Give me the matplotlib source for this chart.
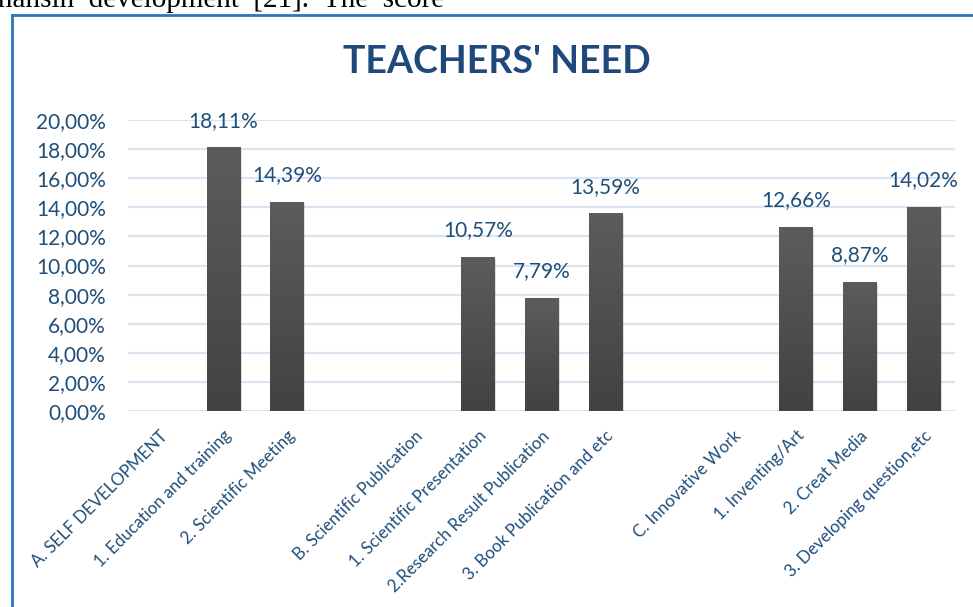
import matplotlib
matplotlib.use("Agg")
import matplotlib.pyplot as plt
import numpy as np
from matplotlib.patches import Rectangle
from matplotlib.lines import Line2D
from matplotlib.colors import LinearSegmentedColormap

categories = ["A. SELF DEVELOPMENT", "1. Education and training", "2. Scientific Meeting", "",
              "B. Scientific Publication", "1. Scientific Presentation", "2.Research Result Publication",
              "3. Book Publication and etc", "", "C. Innovative Work", "1. Inventing/Art",
              "2. Creat Media", "3. Developing question,etc"]
values = [None, 18.11, 14.39, None, None, 10.57, 7.79, 13.59, None, None, 12.66, 8.87, 14.02]
yticks = [0, 2, 4, 6, 8, 10, 12, 14, 16, 18, 20]

blue_txt = "#1F4E79"
grid_c = "#D9E3F3"
plt.rcParams['font.family'] = ['Lato', 'DejaVu Sans']

fig = plt.figure(figsize=(9.73, 6.07), dpi=100)
ax = fig.add_axes([128 / 973, 1 - 411 / 607, (955 - 128) / 973, (411 - 120) / 607])

x = np.arange(len(categories))
grad = np.linspace(0, 1, 256).reshape(-1, 1)
cmap = LinearSegmentedColormap.from_list("g", ["#424242", "#5C5C5C"])

for i, v in enumerate(values):
    if v is None:
        continue
    # soft shadow
    ax.add_patch(Rectangle((i - 0.26 + 0.03, 0 - 0.12), 0.52, v, color="#000000", alpha=0.12,
                           lw=0, zorder=2))
    bar = ax.bar(i, v, width=0.52, color="#505050", zorder=3)[0]
    im = ax.imshow(grad, extent=(i - 0.26, i + 0.26, 0, v), origin="lower", cmap=cmap,
                   aspect="auto", zorder=4)
    im.set_clip_path(bar)
    ax.annotate(f"{v:.2f}%".replace(".", ","), (i, v), xytext=(0, 12), textcoords="offset points",
                ha="center", va="bottom", fontsize=15, color=blue_txt, zorder=5)

ax.set_xlim(-0.5, len(categories) - 0.5)
ax.set_ylim(0, 20)
ax.set_yticks(yticks)
ax.set_yticklabels([f"{t:.2f}%".replace(".", ",") for t in yticks], fontsize=15, color=blue_txt)
ax.set_xticks(x)
ax.set_xticklabels(categories, rotation=45, ha="right", rotation_mode="anchor",
                   fontsize=12.2, color=blue_txt)
ax.tick_params(axis="both", length=0)
ax.tick_params(axis="y", pad=16)
ax.tick_params(axis="x", pad=12)
ax.grid(axis="y", color=grid_c, lw=1.5, zorder=0)
ax.set_axisbelow(True)
for s in ax.spines.values():
    s.set_visible(False)

fig.text(497 / 973, 1 - 62 / 607, "TEACHERS' NEED", ha="center", va="center", fontsize=27,
         fontweight="bold", color="#1F497D")

# document text above the chart box
fig.text(-10 / 973, 1 - 7 / 607, "mansin  development  [21].  The  score", ha="left",
         va="baseline", fontsize=21, family="Liberation Serif", color="black")

# chart border
fig.add_artist(Line2D([11.5 / 973, 11.5 / 973], [0, 1 - 14.5 / 607], color="#2E75B6", lw=2,
                      transform=fig.transFigure))
fig.add_artist(Line2D([11.5 / 973, 1], [1 - 14.5 / 607, 1 - 14.5 / 607], color="#2E75B6", lw=2,
                      transform=fig.transFigure))

fig.savefig("out.png", dpi=100)
